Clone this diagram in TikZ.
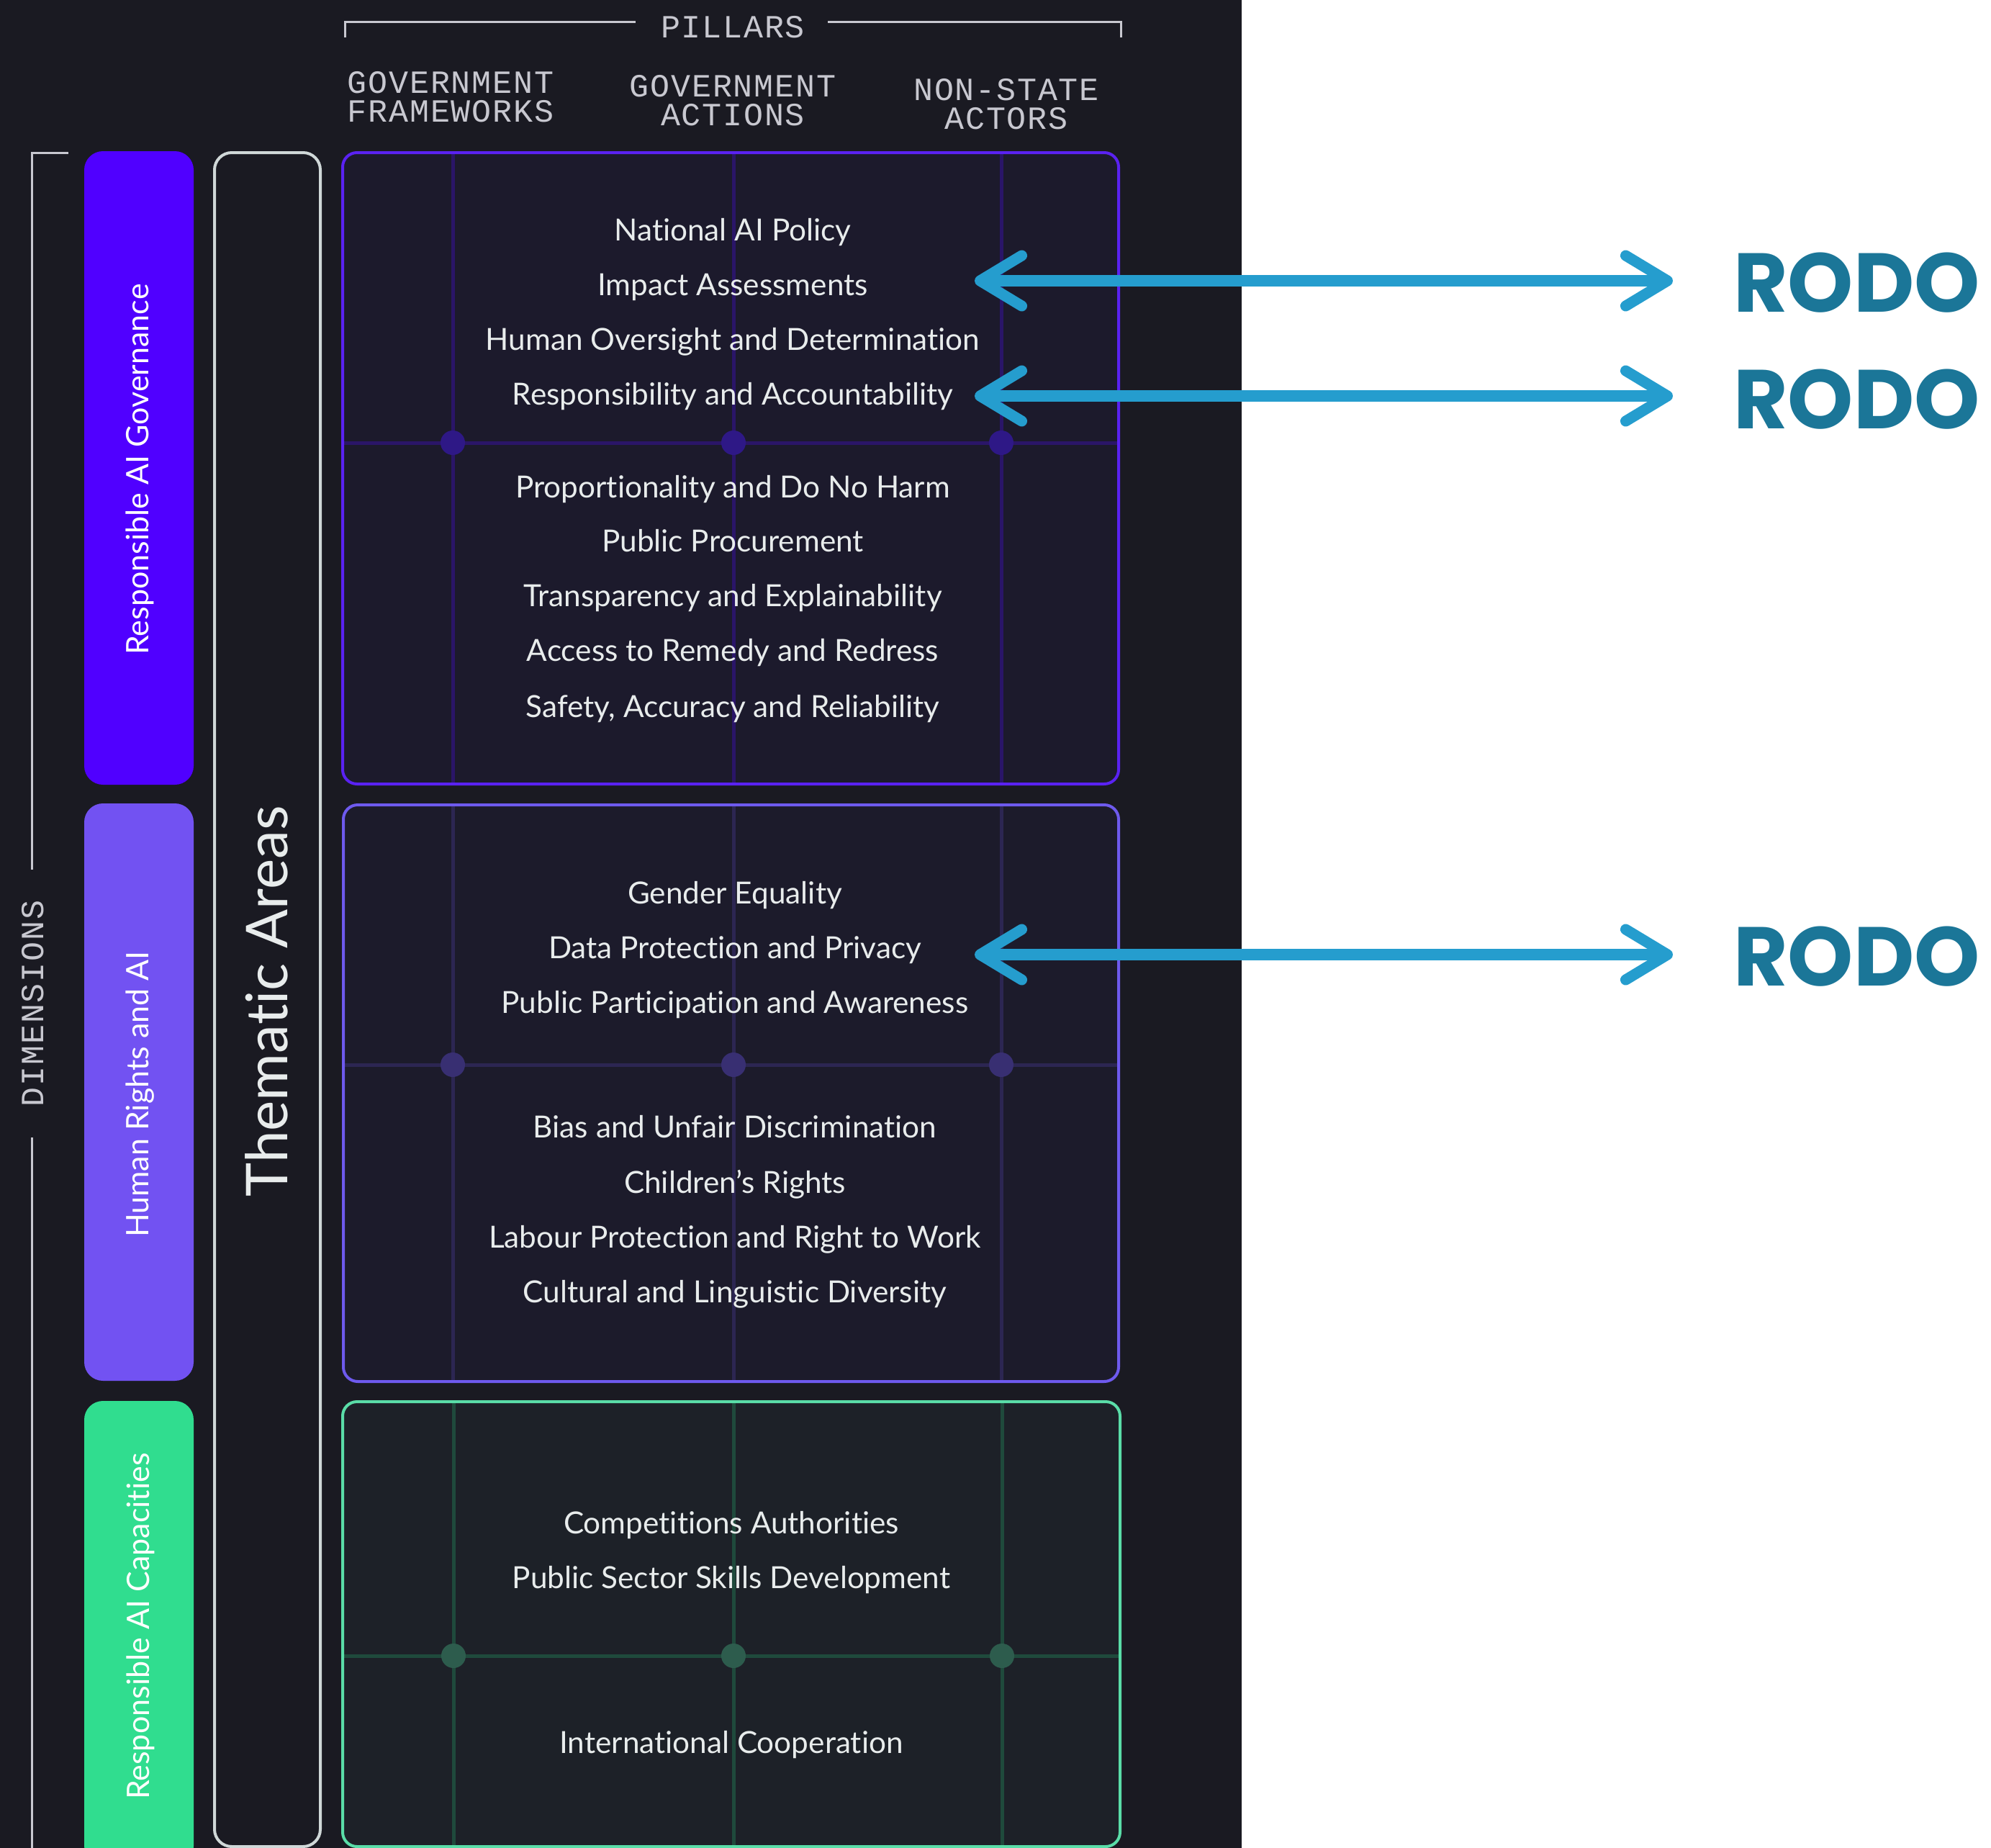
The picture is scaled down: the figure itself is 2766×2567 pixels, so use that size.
\documentclass[tikz,border=0pt]{standalone}
\usepackage{fontspec}
\setmainfont{Lato}[Ligatures=NoCommon]
\newfontfamily\monofont{Liberation Mono}[LetterSpace=4]
\newfontfamily\rodofont{Poppins}
\usetikzlibrary{arrows.meta}

\definecolor{bg}{HTML}{1A1A22}
\definecolor{hdrgray}{HTML}{C8C8D0}
\definecolor{itemwhite}{HTML}{E8ECEC}
\definecolor{govbar}{HTML}{5000FF}
\definecolor{hrbar}{HTML}{7252F2}
\definecolor{capbar}{HTML}{30DD8F}
\definecolor{themeline}{HTML}{D0D8D8}
% governance cell colours
\definecolor{govfill}{HTML}{1C1A2C}
\definecolor{govedge}{HTML}{5A22F2}
\definecolor{govgrid}{HTML}{2A1568}
\definecolor{govdot}{HTML}{2E1886}
% human rights cell colours
\definecolor{hrfill}{HTML}{1C1B2B}
\definecolor{hredge}{HTML}{6E5AEE}
\definecolor{hrgrid}{HTML}{2C2652}
\definecolor{hrdot}{HTML}{382F72}
% capacities cell colours
\definecolor{capfill}{HTML}{1D2128}
\definecolor{capedge}{HTML}{5ADDA8}
\definecolor{capgrid}{HTML}{1F4A3C}
\definecolor{capdot}{HTML}{2D5C4D}
% links
\definecolor{arrowblue}{HTML}{259DCE}
\definecolor{rodoblue}{HTML}{1B7698}

\tikzset{
  hdr/.style={font=\monofont\fontsize{45}{40}\selectfont, text=hdrgray, align=center, inner sep=0pt},
  item/.style={font=\fontsize{42.3}{42}\selectfont, text=itemwhite, inner sep=0pt,
    text height=30pt, text depth=0pt, anchor=center},
  barlabel/.style={font=\fontsize{43}{43}\selectfont, text=white, rotate=90, inner sep=0pt},
  bracket/.style={draw=hdrgray, line width=3pt},
  cellgrid/.style={line width=5pt},
  celledge/.style={line width=4pt, rounded corners=20pt},
  biarrow/.style={draw=arrowblue, line width=16pt,
    {Straight Barb[length=58pt,width=70pt,line width=15pt,round]}-{Straight Barb[length=58pt,width=70pt,line width=15pt,round]}},
  rodo/.style={font=\rodofont\bfseries\fontsize{116}{116}\selectfont, text=rodoblue, anchor=west, inner sep=0pt},
}

\begin{document}
\begin{tikzpicture}[x=1pt,y=-1pt]
\useasboundingbox (0,0) rectangle (2766,2567);
\fill[white] (0,0) rectangle (2766,2567);
\fill[bg] (0,0) rectangle (1725,2567);

% pillars bracket and column headers
\draw[bracket] (479,52) -- (479,30) -- (883,30);
\draw[bracket] (1150,30) -- (1557,30) -- (1557,52);
\node[hdr] (pillars) at (1018,38) {PILLARS};
\node[hdr] (hdrfw) at (626,135) {GOVERNMENT\\FRAMEWORKS};
\node[hdr] (hdract) at (1018,140) {GOVERNMENT\\ACTIONS};
\node[hdr] (hdrnsa) at (1398,145) {NON-STATE\\ACTORS};

% dimensions bracket
\draw[bracket] (95,212) -- (44,212) -- (44,1208);
\draw[bracket] (44,1580) -- (44,2567);
\node[hdr, rotate=90] (dims) at (46,1394) {DIMENSIONS};

% dimension bars
\fill[govbar, rounded corners=26pt] (117,210) rectangle (269,1090);
\fill[hrbar, rounded corners=26pt] (117,1116) rectangle (269,1918);
\fill[capbar, rounded corners=26pt] (117,1946) rectangle (269,2590);
\node[barlabel] (dimgov) at (194,652) {Responsible AI Governance};
\node[barlabel] (dimhr) at (195,1520) {Human Rights and AI};
\node[barlabel] (dimcap) at (195,2259) {Responsible AI Capacities};

% thematic areas frame
\draw[themeline, line width=4pt, rounded corners=24pt] (298,212) rectangle (445,2565);
\node[font=\fontsize{80}{80}\selectfont, text=itemwhite, rotate=90, inner sep=0pt] (theme) at (370,1391) {Thematic Areas};

% governance cell
\fill[govfill, rounded corners=20pt] (476,212) rectangle (1554,1089);
\foreach \gx in {629,1019,1391} \draw[govgrid, cellgrid] (\gx,214) -- (\gx,1087);
\draw[govgrid, cellgrid] (478,615) -- (1552,615);
\foreach \gx in {629,1019,1391} \fill[govdot] (\gx,615) circle (17pt);
\draw[govedge, celledge] (476,212) rectangle (1554,1089);

% human rights cell
\fill[hrfill, rounded corners=20pt] (477,1118) rectangle (1554,1919);
\foreach \gx in {629,1019,1391} \draw[hrgrid, cellgrid] (\gx,1120) -- (\gx,1917);
\draw[hrgrid, cellgrid] (479,1479) -- (1552,1479);
\foreach \gx in {629,1019,1391} \fill[hrdot] (\gx,1479) circle (17pt);
\draw[hredge, celledge] (477,1118) rectangle (1554,1919);

% capacities cell
\fill[capfill, rounded corners=20pt] (476,1947) rectangle (1556,2565);
\foreach \gx in {630,1019,1392} \draw[capgrid, cellgrid] (\gx,1949) -- (\gx,2563);
\draw[capgrid, cellgrid] (478,2300) -- (1554,2300);
\foreach \gx in {630,1019,1392} \fill[capdot] (\gx,2300) circle (17pt);
\draw[capedge, celledge] (476,1947) rectangle (1556,2565);

% governance thematic areas
\node[item] (g1) at (1018,319) {National AI Policy};
\node[item] (g2) at (1018,395) {Impact Assessments};
\node[item] (g3) at (1018,471) {Human Oversight and Determination};
\node[item] (g4) at (1018,547) {Responsibility and Accountability};
\node[item] (g5) at (1018,676) {Proportionality and Do No Harm};
\node[item] (g6) at (1018,751) {Public Procurement};
\node[item] (g7) at (1018,827) {Transparency and Explainability};
\node[item] (g8) at (1018,903) {Access to Remedy and Redress};
\node[item] (g9) at (1018,981) {Safety, Accuracy and Reliability};

% human rights thematic areas
\node[item] (h1) at (1021,1240) {Gender Equality};
\node[item] (h2) at (1021,1316) {Data Protection and Privacy};
\node[item] (h3) at (1021,1392) {Public Participation and Awareness};
\node[item] (h4) at (1021,1565) {Bias and Unfair Discrimination};
\node[item] (h5) at (1021,1642) {Children’s Rights};
\node[item] (h6) at (1021,1718) {Labour Protection and Right to Work};
\node[item] (h7) at (1021,1794) {Cultural and Linguistic Diversity};

% capacities thematic areas
\node[item] (c1) at (1016,2115) {Competitions Authorities};
\node[item] (c2) at (1016,2191) {Public Sector Skills Development};
\node[item] (c3) at (1016,2420) {International Cooperation};

% RODO links
\node[rodo] (rodo1) at (2408,393) {RODO};
\node[rodo] (rodo2) at (2408,555) {RODO};
\node[rodo] (rodo3) at (2408,1329) {RODO};
\coordinate (tip1) at (1354,390);
\coordinate (tip2) at (1354,550);
\coordinate (tip3) at (1354,1326);
\draw[biarrow, shorten >=84pt] (tip1) -- (tip1 -| rodo1.west);
\draw[biarrow, shorten >=84pt] (tip2) -- (tip2 -| rodo2.west);
\draw[biarrow, shorten >=84pt] (tip3) -- (tip3 -| rodo3.west);
\end{tikzpicture}
\end{document}
